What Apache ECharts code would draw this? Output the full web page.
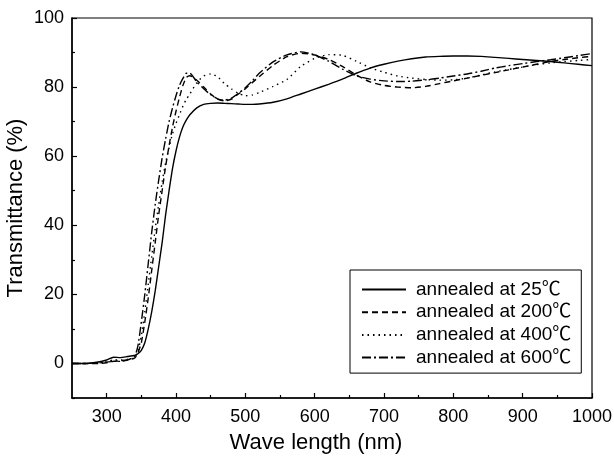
<!DOCTYPE html>
<html>
<head>
<meta charset="utf-8">
<script src="https://cdn.jsdelivr.net/npm/echarts@6/dist/echarts.min.js"></script>
<style>
html,body{margin:0;padding:0;background:#fff;}
#chart{width:614px;height:459px;}
</style>
</head>
<body>
<div id="chart"></div>
<script>
// Wavelength (nm)
var wavelength = [250,270,290,300,310,320,330,340,345,350,355,360,365,370,375,380,385,390,395,400,405,410,415,420,430,440,450,460,470,480,490,500,510,520,540,560,580,600,620,640,660,680,700,720,740,760,780,800,820,840,860,880,900,920,940,960,980,1000];

// Transmittance (%)
var t25 = [0,0,0.5,1,1.8,1.7,2,2.3,2.8,3.8,6,10,15,21,28,35,43,50,56.5,61.5,65.5,68.5,70.5,72,74,75,75.3,75.4,75.3,75.2,75.1,75,75,75.1,75.6,76.6,78,79.4,80.8,82.3,84,85.5,86.6,87.5,88.2,88.7,88.9,89,89,88.9,88.6,88.3,88,87.7,87.4,87,86.6,86.2];
var t200 = [0,0,0,0.2,0.6,0.8,1,1.5,3,6,12,19,27,35,43,50,57,63,68.5,73,77,80.5,82.8,83.3,82,80,78,76.5,76,76.5,78,79.5,81.3,83,86.3,88.8,89.8,89.3,88,86,83.5,81.5,80.5,80,79.8,80.2,81,81.8,82.6,83.4,84.2,85,85.8,86.6,87.4,88,88.5,88.9];
var t400 = [0,0,0.2,0.5,1,1,1.2,1.6,3.5,8,15,23,31,39,46,52.5,58,62.5,66.5,69.5,72,74.5,76.5,78,81.3,83.2,83.8,83,81,79.5,78.2,77.5,77.7,78.4,80.2,82.2,86,88.3,89.4,89.2,87.5,85.6,84.3,83.2,82.6,82.2,82,82.1,82.6,83.5,84.4,85.1,85.8,86.5,87,87.4,87.7,88];
var t600 = [0,0,0.2,0.4,0.6,0.6,1,2,5,12,20,29,38,46,53,59.5,65,70,74,77.5,80.5,82.5,84,84,81.5,79.5,77.8,76.6,76.2,76.8,78.2,79.8,81.8,84,87.3,89.3,90.2,89.3,87.5,85.2,83.3,82.3,81.8,81.6,81.7,82.1,82.6,83.2,83.8,84.6,85.5,86.2,86.8,87.4,87.9,88.5,89.1,89.7];

var seriesNames = ['annealed at 25℃','annealed at 200℃','annealed at 400℃','annealed at 600℃'];
var xMajorTicks = [300,400,500,600,700,800,900,1000];
var xMinorTicks = [350,450,550,650,750,850,950];
var yMajorTicks = [0,20,40,60,80,100];
var yMinorTicks = [-10,10,30,50,70,90];

function pairs(ys){ return wavelength.map(function(x,i){ return [x, ys[i]]; }); }

var font = 'Liberation Sans, Arial, Helvetica, Noto Sans CJK SC, sans-serif';
var dashes = ['solid', [6,4], [1.5,4], [9,3,2,3]];
var dataSets = [t25, t200, t400, t600];

var chart = echarts.init(document.getElementById('chart'), null, {renderer:'canvas'});
var option = {
  backgroundColor: '#fff',
  animation: false,
  textStyle: {fontFamily: font, color: '#000'},
  grid: {left: 72, right: 22, top: 18, bottom: 61, containLabel: false, outerBoundsMode: 'none', show: true, borderColor: '#000', borderWidth: 1.2, backgroundColor: 'transparent'},
  legend: {
    orient: 'vertical', left: 350, top: 270,
    padding: [10, 10, 6, 11],
    borderColor: '#000', borderWidth: 1,
    itemWidth: 44, itemHeight: 14, itemGap: 3.7,
    data: seriesNames,
    itemStyle: {color: 'rgba(0,0,0,0)', borderWidth: 0, opacity: 0},
    textStyle: {fontFamily: font, fontSize: 19, color: '#000', lineHeight: 19, padding: [0,0,0,5]}
  },
  xAxis: [{
    type: 'value', min: 250, max: 1000,
    name: 'Wave length (nm)', nameLocation: 'middle', nameGap: 34,
    nameTextStyle: {fontFamily: font, fontSize: 22, color: '#000', padding: [0, 32, 0, 0]},
    axisLine: {show: true, onZero: false, lineStyle: {color: '#000', width: 1.5}},
    axisTick: {show: true, inside: true, length: 5, customValues: xMajorTicks, lineStyle: {color: '#000', width: 1.2}},
    axisLabel: {customValues: xMajorTicks, formatter: function(v){ return String(v); }, fontFamily: font, fontSize: 18, color: '#000', margin: 10},
    splitLine: {show: false}
  }, {
    type: 'value', min: 250, max: 1000, position: 'bottom',
    axisLine: {show: false, onZero: false},
    axisTick: {show: true, inside: true, length: 3, customValues: xMinorTicks, lineStyle: {color: '#000', width: 1.2}},
    axisLabel: {show: false},
    splitLine: {show: false}
  }],
  yAxis: [{
    type: 'value', min: -10, max: 100,
    name: 'Transmittance (%)', nameLocation: 'middle', nameGap: 45, nameRotate: 90, nameMoveOverlap: false,
    nameTextStyle: {fontFamily: font, fontSize: 22, color: '#000'},
    axisLine: {show: true, onZero: false, lineStyle: {color: '#000', width: 1.5}},
    axisTick: {show: true, inside: true, length: 5, customValues: yMajorTicks, lineStyle: {color: '#000', width: 1.2}},
    axisLabel: {customValues: yMajorTicks, formatter: function(v){ return String(v); }, fontFamily: font, fontSize: 18, color: '#000', margin: 8},
    splitLine: {show: false}
  }, {
    type: 'value', min: -10, max: 100, position: 'left',
    axisLine: {show: false, onZero: false},
    axisTick: {show: true, inside: true, length: 3, customValues: yMinorTicks, lineStyle: {color: '#000', width: 1.2}},
    axisLabel: {show: false},
    splitLine: {show: false}
  }],
  series: seriesNames.map(function(n, i){
    return {
      name: n, type: 'line', data: pairs(dataSets[i]),
      xAxisIndex: 0, yAxisIndex: 0,
      showSymbol: false, symbol: 'none', smooth: 0.2,
      lineStyle: {color: '#000', width: 1.4, type: dashes[i]},
      itemStyle: {color: '#000'}
    };
  })
};
chart.setOption(option);
</script>
</body>
</html>
